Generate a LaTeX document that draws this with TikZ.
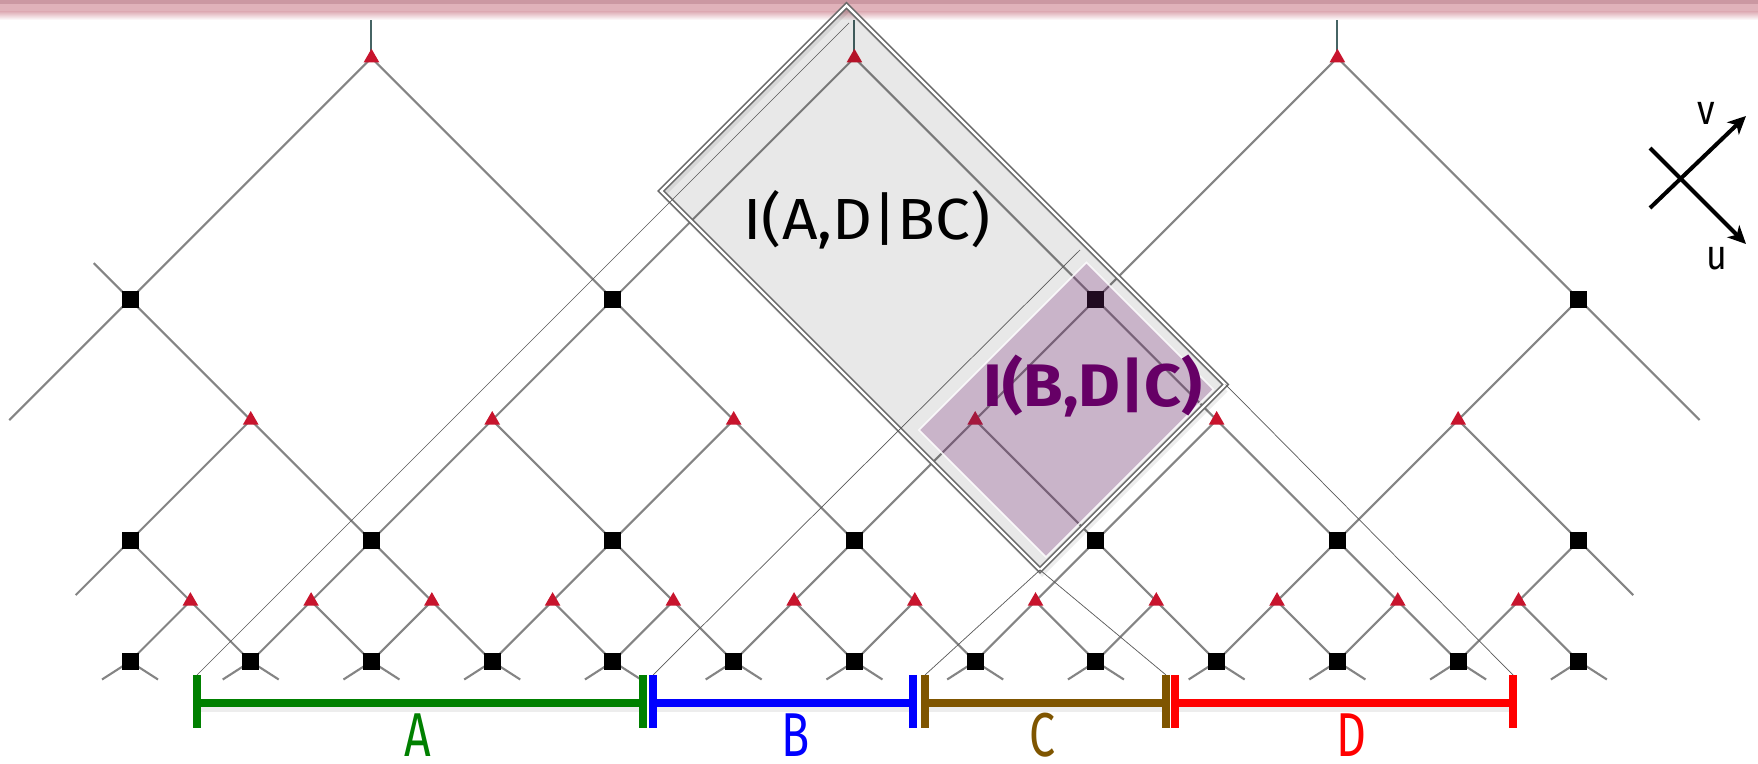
\documentclass[tikz,border=0pt]{standalone}
\usepackage{fontspec}
\setmainfont{Fira Sans}
\usetikzlibrary{shapes.geometric,arrows.meta}

\definecolor{netgray}{RGB}{132,132,132}
\definecolor{trired}{RGB}{200,20,45}
\definecolor{stemcol}{RGB}{70,100,100}
\definecolor{bandtop}{RGB}{203,152,162}
\definecolor{bandmid}{RGB}{224,178,186}
\definecolor{rimgray}{RGB}{105,105,105}
\definecolor{purptext}{RGB}{102,0,102}
\definecolor{purpfill}{RGB}{120,40,120}
\definecolor{agreen}{RGB}{0,128,0}
\definecolor{bblue}{RGB}{0,0,255}
\definecolor{cbrown}{RGB}{127,85,0}
\definecolor{dred}{RGB}{255,0,0}

\tikzset{
  netline/.style={draw=netgray, line width=1.05pt},
  stemline/.style={draw=stemcol, line width=1pt},
  sq/.style={rectangle, fill=black, inner sep=0pt, minimum size=8.5pt},
  tri/.style={regular polygon, regular polygon sides=3, fill=trired, inner sep=0pt, minimum size=9pt},
  coneline/.style={draw=black!65, line width=0.35pt},
  intbar/.style={line width=3.8pt},
  inttick/.style={line width=3.8pt},
  barshadow/.style={draw=black, opacity=0.07, line width=3pt},
  lbl/.style={font=\fontsize{31}{34}\selectfont, inner sep=0pt},
  axisarrow/.style={draw=black, line width=2pt, -{Stealth[length=9pt,width=8.5pt,inset=2.5pt]}},
}

\begin{document}
\begin{tikzpicture}[x=0.5pt,y=-0.5pt]
\useasboundingbox (0,0) rectangle (1758,764);
\fill[white] (0,0) rectangle (1758,764);

% header band
\fill[bandtop] (0,0) rectangle (1758,4);
\fill[bandmid] (0,4) rectangle (1758,12);
\shade[top color=bandmid, bottom color=white] (0,12) rectangle (1758,20);

% lattice points
\foreach \i in {0,...,24}
  \foreach \j in {0,1,2,4,6,10}
    \coordinate (p-\i-\j) at ({130+60.37*\i},{661.5-60.37*\j});

% free ends of the boundary legs
\coordinate (fl-2) at ({130-60.37*0.9},{661.5-60.37*1.1});
\coordinate (fr-2) at ({130+60.37*24.9},{661.5-60.37*1.1});
\coordinate (fl-6) at ({130-60.37*2.0},{661.5-60.37*4.0});
\coordinate (fr-6) at ({130+60.37*26.0},{661.5-60.37*4.0});
\coordinate (fu-6) at ({130-60.37*0.6},{661.5-60.37*6.6});
\foreach \k in {4,12,20}
  \coordinate (st-\k) at ({130+60.37*\k},20);

% bottom legs
\foreach \i in {0,2,...,24}
  \draw[netline] (p-\i-0) ++(-28,18) -- (p-\i-0) -- ++(28,18);

% first layer: disentanglers to isometries
\foreach \k [evaluate=\k as \a using int(\k-1), evaluate=\k as \b using int(\k+1)] in {1,3,...,23}
  \draw[netline] (p-\a-0) -- (p-\k-1) -- (p-\b-0);
\foreach \k [evaluate=\k as \a using int(\k-1)] in {1,5,...,21}
  \draw[netline] (p-\k-1) -- (p-\a-2);
\foreach \k [evaluate=\k as \b using int(\k+1)] in {3,7,...,23}
  \draw[netline] (p-\k-1) -- (p-\b-2);
\draw[netline] (p-0-2) -- (fl-2);
\draw[netline] (p-24-2) -- (fr-2);

% second layer
\foreach \k [evaluate=\k as \a using int(\k-2), evaluate=\k as \b using int(\k+2)] in {2,6,...,22}
  \draw[netline] (p-\a-2) -- (p-\k-4) -- (p-\b-2);
\foreach \k [evaluate=\k as \a using int(\k-2)] in {2,10,18}
  \draw[netline] (p-\k-4) -- (p-\a-6);
\foreach \k [evaluate=\k as \b using int(\k+2)] in {6,14,22}
  \draw[netline] (p-\k-4) -- (p-\b-6);
\draw[netline] (p-0-6) -- (fl-6);
\draw[netline] (p-24-6) -- (fr-6);
\draw[netline] (p-0-6) -- (fu-6);

% top layer
\foreach \k [evaluate=\k as \a using int(\k-4), evaluate=\k as \b using int(\k+4)] in {4,12,20} {
  \draw[netline] (p-\a-6) -- (p-\k-10) -- (p-\b-6);
  \draw[stemline] (p-\k-10) -- (st-\k);
}

% tensors
\foreach \i in {0,2,...,24} \node[sq] (s-\i-0) at (p-\i-0) {};
\foreach \i in {0,4,...,24} \node[sq] (s-\i-2) at (p-\i-2) {};
\foreach \i in {0,8,16,24} \node[sq] (s-\i-6) at (p-\i-6) {};
\foreach \k in {1,3,...,23} \node[tri] (t-\k-1) at (p-\k-1) {};
\foreach \k in {2,6,...,22} \node[tri] (t-\k-4) at (p-\k-4) {};
\foreach \k in {4,12,20} \node[tri] (t-\k-10) at (p-\k-10) {};

% region I(A,D|BC)
\coordinate (g-top) at (846.5,5.5);
\coordinate (g-right) at (1225.5,384.5);
\coordinate (g-bottom) at (1040,570);
\coordinate (g-left) at (661,191);
% soft shadow only outside the region
\fill[black, opacity=0.07, even odd rule]
  ([shift={(2,7)}]g-top) -- ([shift={(2,7)}]g-right) -- ([shift={(2,7)}]g-bottom) -- ([shift={(2,7)}]g-left) -- cycle
  (g-top) -- (g-right) -- (g-bottom) -- (g-left) -- cycle;
\fill[black, fill opacity=0.09] (g-top) -- (g-right) -- (g-bottom) -- (g-left) -- cycle;

% region I(B,D|C)
\coordinate (q-top) at (1086.5,262.5);
\coordinate (q-right) at (1213.5,389.5);
\coordinate (q-bottom) at (1046,557);
\coordinate (q-left) at (919,430);
\fill[purpfill, fill opacity=0.27] (q-top) -- (q-right) -- (q-bottom) -- (q-left) -- cycle;
\draw[white, line width=0.8pt, opacity=0.85] (q-top) -- (q-right) -- (q-bottom) -- (q-left) -- cycle;

\draw[rimgray, line width=0.8pt, double=white, double distance=1.1pt]
  (g-top) -- (g-right) -- (g-bottom) -- (g-left) -- cycle;

% intervals
\coordinate (aL) at (197,703);  \coordinate (aR) at (643,703);
\coordinate (bL) at (653,703);  \coordinate (bR) at (913,703);
\coordinate (cL) at (925,703);  \coordinate (cR) at (1166,703);
\coordinate (dL) at (1175,703); \coordinate (dR) at (1513,703);
\foreach \e in {aL,aR,bL,bR,cL,cR,dL,dR} {
  \coordinate (\e-up) at ([yshift=14pt]\e);
  \coordinate (\e-dn) at ([yshift=-12.5pt]\e);
}

% causal cone boundaries
\coordinate (c1) at (849,23);
\coordinate (c2) at (1080,250);
\draw[coneline] (aL-up) -- (c1);
\draw[coneline] (bL-up) -- (c2);
\draw[coneline] (cL-up) -- (g-bottom);
\draw[coneline] (cR-up) -- (g-bottom);
\draw[coneline] (dR-up) -- (g-right);

% interval bars with soft shadows
\foreach \l/\r in {aL/aR,bL/bR,cL/cR,dL/dR}
  \draw[barshadow] ([shift={(2,6)}]\l) -- ([shift={(2,6)}]\r);
\draw[intbar, agreen] (aL) -- (aR);
\draw[inttick, agreen] (aL-up) -- (aL-dn);
\draw[inttick, agreen] (aR-up) -- (aR-dn);
\draw[intbar, bblue] (bL) -- (bR);
\draw[inttick, bblue] (bL-up) -- (bL-dn);
\draw[inttick, bblue] (bR-up) -- (bR-dn);
\draw[intbar, cbrown] (cL) -- (cR);
\draw[inttick, cbrown] (cL-up) -- (cL-dn);
\draw[inttick, cbrown] (cR-up) -- (cR-dn);
\draw[intbar, dred] (dL) -- (dR);
\draw[inttick, dred] (dL-up) -- (dL-dn);
\draw[inttick, dred] (dR-up) -- (dR-dn);

\node[lbl, text=agreen] (la) at (418,735) {\scalebox{0.75}[1]{A}};
\node[lbl, text=bblue] (lb) at (796,735) {\scalebox{0.75}[1]{B}};
\node[lbl, text=cbrown] (lc) at (1043,735) {\scalebox{0.75}[1]{C}};
\node[lbl, text=dred] (ld) at (1351,735) {\scalebox{0.75}[1]{D}};

% region labels
\node[inner sep=0pt, font=\fontsize{29}{34}\selectfont] (tad) at (867,220) {\scalebox{1.07}[1]{I(A,D|BC)}};
\node[inner sep=0pt, text=purptext, font=\fontsize{30}{34}\bfseries\selectfont] (tbd) at (1093,386) {\scalebox{1.07}[1]{I(B,D|C)}};

% light-cone axes
\coordinate (u0) at (1650,148); \coordinate (u1) at (1746,244);
\coordinate (v0) at (1650,208); \coordinate (v1) at (1746,116);
\draw[axisarrow] (u0) -- (u1);
\draw[axisarrow] (v0) -- (v1);
\node[inner sep=0pt, font=\fontsize{21}{24}\selectfont] (lv) at (1706,113) {\scalebox{0.85}[1]{v}};
\node[inner sep=0pt, font=\fontsize{21}{24}\selectfont] (lu) at (1717,259) {\scalebox{0.85}[1]{u}};
\end{tikzpicture}
\end{document}
